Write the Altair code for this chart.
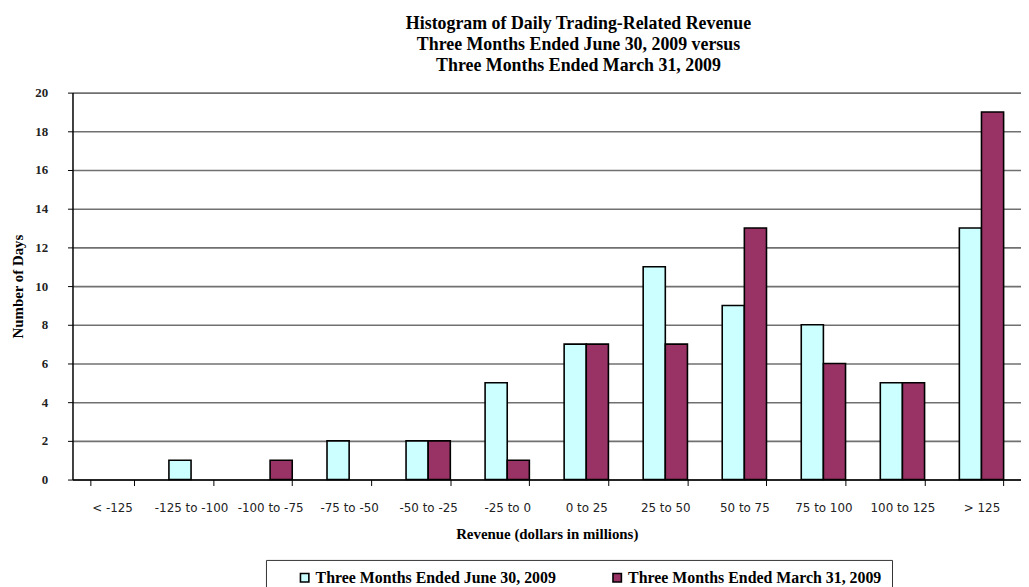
import altair as alt
import pandas as pd

categories = ["< -125", "-125 to -100", "-100 to -75", "-75 to -50", "-50 to -25",
              "-25 to 0", "0 to 25", "25 to 50", "50 to 75", "75 to 100",
              "100 to 125", "> 125"]
june_2009 = [0, 1, 0, 2, 2, 5, 7, 11, 9, 8, 5, 13]
march_2009 = [0, 0, 1, 0, 2, 1, 7, 7, 13, 6, 5, 19]
series_names = ["Three Months Ended June 30, 2009", "Three Months Ended March 31, 2009"]
series_colors = ["#CCFFFF", "#993366"]

rows = []
for i, c in enumerate(categories):
    rows.append({"cat": c, "series": series_names[0], "days": june_2009[i]})
    rows.append({"cat": c, "series": series_names[1], "days": march_2009[i]})
df = pd.DataFrame(rows)

serif = "Liberation Serif"
sans = "DejaVu Sans"

chart = alt.Chart(df).mark_bar(stroke="black", strokeWidth=1.6).encode(
    x=alt.X("cat:N", sort=categories,
            scale=alt.Scale(domain=categories, paddingInner=0.44, paddingOuter=0.22),
            axis=alt.Axis(title="Revenue (dollars in millions)", labelAngle=0,
                          tickBand="extent", tickSize=6, tickColor="black",
                          domainColor="black", domainWidth=1.5,
                          labelFont=sans, labelFontSize=12, labelColor="#222",
                          labelPadding=17, titleFont=serif, titleFontSize=15,
                          titleFontWeight="bold", titlePadding=13, titleColor="black")),
    xOffset=alt.XOffset("series:N", sort=series_names,
                        scale=alt.Scale(domain=series_names)),
    y=alt.Y("days:Q", scale=alt.Scale(domain=[0, 20]),
            axis=alt.Axis(title="Number of Days", values=list(range(0, 21, 2)),
                          tickSize=5, tickColor="black", domainColor="black",
                          domainWidth=1.5, gridColor="#707070", gridWidth=1.6,
                          labelFont=serif, labelFontSize=13, labelFontWeight="bold",
                          labelColor="#222", labelPadding=20, titleFont=serif,
                          titleFontSize=15, titleFontWeight="bold", titlePadding=9,
                          titleColor="black")),
    fill=alt.Fill("series:N", sort=series_names,
                  scale=alt.Scale(domain=series_names, range=series_colors),
                  legend=alt.Legend(title=None, orient="none", legendX=195, legendY=471,
                                    direction="horizontal", columns=2,
                                    symbolType="square", symbolSize=72,
                                    symbolStrokeColor="black", symbolStrokeWidth=1.6,
                                    symbolOffset=21, labelOffset=3,
                                    labelFont=serif, labelFontSize=16,
                                    labelFontWeight="bold", labelColor="black",
                                    labelLimit=400, columnPadding=32,
                                    strokeColor="#333", padding=10)),
).transform_filter(
    "datum.days > 0"
).properties(
    width=956,
    height=390,
    title=alt.Title(["Histogram of Daily Trading-Related Revenue",
                     "Three Months Ended June 30, 2009 versus",
                     "Three Months Ended March 31, 2009"],
                    font=serif, fontSize=18, fontWeight="bold", lineHeight=21,
                    anchor="middle", offset=12, dx=32, color="black"),
    autosize=alt.AutoSizeParams(type="none"),
    padding={"left": 65, "top": 83, "right": 0, "bottom": 106},
).configure_view(stroke=None)

chart.save("out.html", embed_options={"renderer": "svg", "actions": False})
